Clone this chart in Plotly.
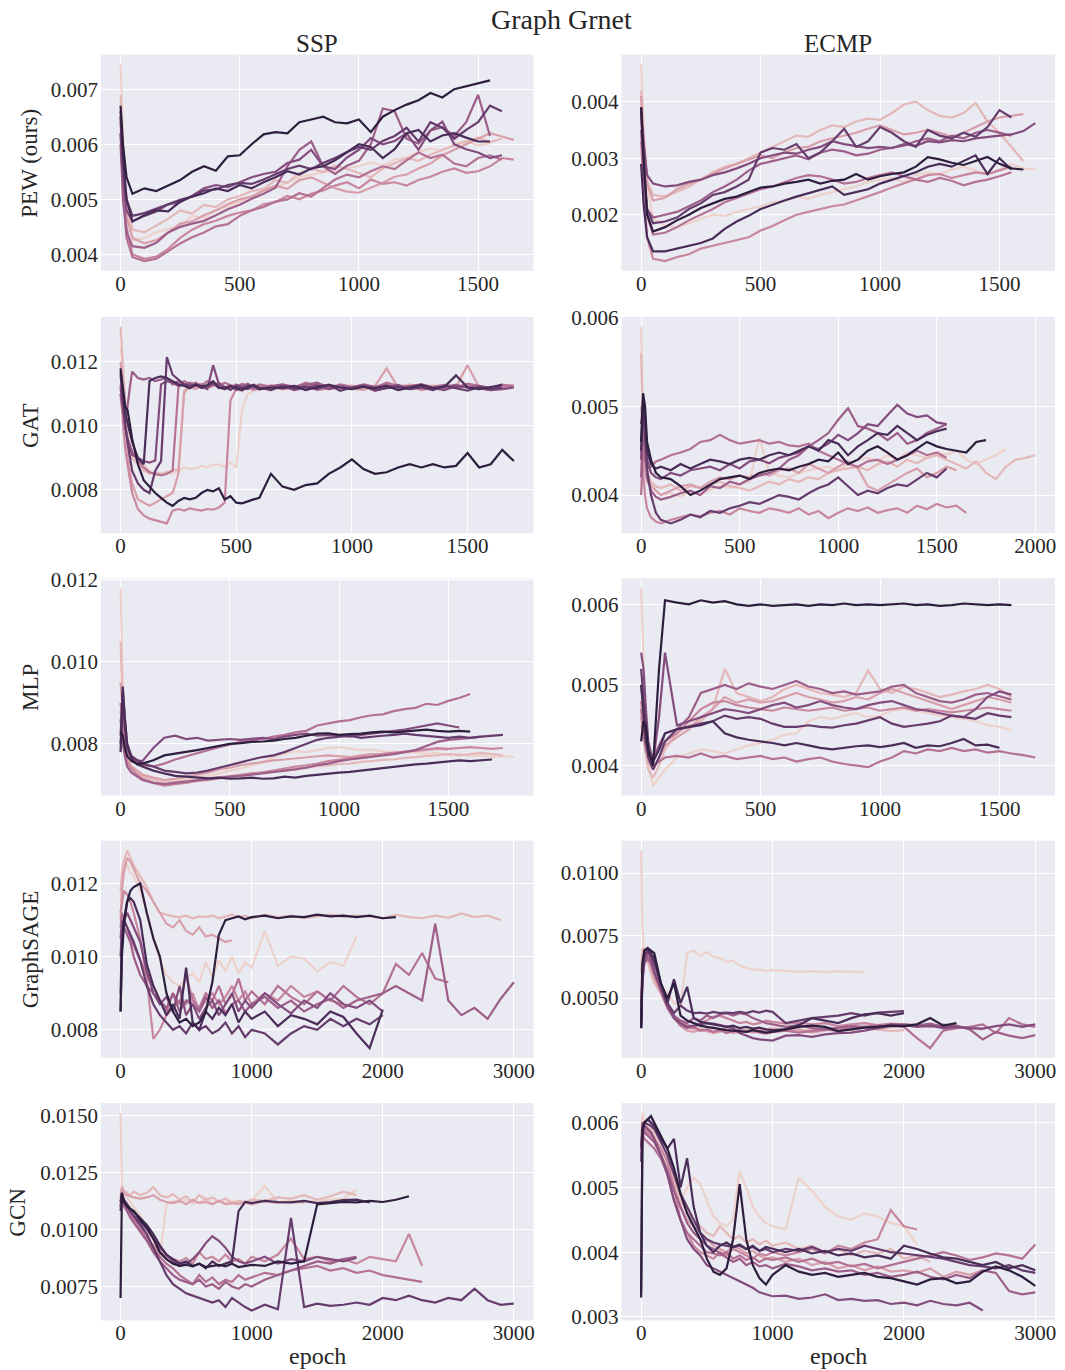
import math
import plotly.graph_objects as go

# ---------------------------------------------------------------------------
# Loss curves per seed (values stored in units of 1e-5), one list per seed,
# ordered from the lowest seed (lightest colour) to the highest (darkest).
# Each curve is sampled on the epoch grid of its panel; a shorter list
# simply means that run stopped earlier.
# ---------------------------------------------------------------------------
VALUE_UNIT = 1e-5

EPOCHS_A = [0, 10, 25, 50, 100, 150, 200, 250, 300, 350, 400, 450, 500, 550, 600, 650,
            700, 750, 800, 850, 900, 950, 1000, 1050, 1100, 1150, 1200, 1250, 1300, 1350,
            1400, 1450, 1500, 1550, 1600, 1650]

EPOCHS_B = [0, 10, 20, 30, 40, 50, 75, 100, 125, 150, 175, 200, 225, 250, 275, 300, 325,
            350, 375, 400, 425, 450, 475, 500, 525, 550, 575, 600, 650, 700, 750, 800, 850,
            900, 950, 1000, 1050, 1100, 1150, 1200, 1250, 1300, 1350, 1400, 1450, 1500,
            1550, 1600, 1650, 1700]

EPOCHS_C = [0, 10, 20, 30, 50, 75, 100, 150, 200, 250, 300, 350, 400, 450, 500, 550, 600,
            650, 700, 750, 800, 850, 900, 950, 1000, 1050, 1100, 1150, 1200, 1250, 1300,
            1350, 1400, 1450, 1500, 1550, 1600, 1650, 1700, 1750, 1800, 1850, 1900, 1950, 2000]

EPOCHS_D = [0, 10, 25, 50, 75, 100, 150, 200, 250, 300, 350, 400, 450, 500, 550, 600, 650,
            700, 750, 800, 850, 900, 950, 1000, 1100, 1200, 1300, 1400, 1500, 1600, 1700,
            1800, 1900, 2000, 2100, 2200, 2300, 2400, 2500, 2600, 2700, 2800, 2900, 3000]

PEW_SSP = [
    [745, 620, 480, 425, 430, 440, 446, 452, 470, 466, 480, 488, 495, 506, 515, 521, 530, 541, 545, 549, 552, 557, 560, 567, 561, 572, 576, 586, 592, 588, 600, 606, 598, 602],
    [690, 600, 500, 445, 440, 452, 465, 480, 474, 490, 486, 500, 506, 515, 519, 535, 530, 548, 555, 550, 561, 555, 548, 540, 556, 565, 575, 570, 581, 590, 598, 605, 612, 604, 610],
    [650, 560, 470, 430, 420, 426, 440, 456, 460, 471, 480, 491, 500, 505, 516, 525, 519, 535, 540, 530, 520, 514, 512, 521, 530, 541, 545, 556, 565, 580, 590, 601, 610, 620, 614, 608],
    [640, 540, 450, 400, 392, 396, 410, 430, 445, 455, 461, 470, 476, 480, 491, 495, 506, 500, 510, 516, 525, 531, 520, 536, 528, 531, 525, 535, 541, 550, 556, 548, 551, 560, 575, 572],
    [620, 520, 430, 395, 388, 392, 406, 420, 431, 440, 451, 455, 470, 480, 486, 496, 500, 511, 505, 521, 536, 545, 540, 551, 560, 555, 571, 585, 575, 581, 565, 560, 575, 580, 572],
    [600, 500, 440, 415, 412, 421, 440, 450, 456, 461, 471, 482, 490, 501, 510, 521, 560, 590, 605, 560, 546, 561, 570, 600, 665, 660, 610, 601, 625, 631, 615, 640, 690, 615],
    [620, 540, 480, 460, 470, 478, 491, 495, 506, 520, 526, 522, 531, 540, 546, 550, 566, 572, 590, 560, 555, 576, 590, 611, 600, 606, 620, 590, 625, 641, 600, 591, 585, 575, 580],
    [650, 560, 500, 470, 475, 483, 490, 499, 505, 516, 518, 526, 530, 528, 536, 546, 555, 561, 555, 566, 575, 586, 595, 590, 606, 615, 630, 605, 640, 630, 610, 626, 640, 670, 660],
    [660, 580, 500, 460, 471, 480, 478, 496, 505, 511, 520, 515, 526, 520, 531, 540, 551, 545, 556, 560, 571, 585, 600, 595, 575, 591, 620, 626, 605, 616, 620, 612, 605, 605],
    [670, 600, 540, 510, 520, 515, 525, 535, 550, 560, 552, 578, 580, 600, 618, 622, 620, 640, 645, 650, 640, 638, 645, 622, 650, 662, 672, 680, 693, 685, 700, 705, 710, 716],
]

PEW_ECMP = [
    [466, 360, 250, 195, 180, 178, 185, 192, 200, 198, 205, 210, 215, 222, 225, 232, 228, 235, 240, 245, 250, 258, 262, 265, 258, 270, 275, 272, 280, 285, 278, 272, 280, 290, 282, 280],
    [420, 340, 260, 235, 232, 240, 250, 262, 275, 285, 290, 300, 310, 320, 330, 340, 338, 350, 358, 355, 365, 370, 368, 380, 395, 400, 385, 375, 372, 380, 398, 365, 345, 320, 295],
    [410, 330, 255, 225, 230, 245, 255, 262, 272, 282, 290, 298, 305, 300, 310, 318, 320, 330, 335, 340, 345, 352, 358, 350, 342, 345, 350, 345, 338, 345, 355, 365, 372, 375, 378],
    [330, 250, 160, 122, 118, 125, 130, 140, 145, 150, 155, 160, 172, 180, 190, 200, 205, 210, 215, 218, 225, 232, 240, 248, 255, 262, 270, 272, 265, 270, 275, 272, 278, 285],
    [380, 280, 200, 165, 168, 178, 190, 200, 210, 222, 230, 238, 245, 250, 258, 265, 270, 268, 262, 255, 258, 265, 270, 275, 268, 262, 258, 265, 260, 252, 258, 262, 268, 275],
    [350, 280, 210, 195, 200, 205, 215, 225, 240, 250, 262, 278, 290, 295, 300, 305, 298, 310, 315, 312, 305, 308, 315, 318, 322, 330, 335, 330, 340, 335, 345, 350, 345, 340],
    [390, 330, 270, 255, 250, 252, 258, 262, 270, 275, 282, 290, 300, 305, 310, 308, 315, 320, 330, 325, 322, 318, 320, 318, 325, 322, 330, 328, 332, 330, 335, 338, 340, 342, 348, 362],
    [390, 300, 210, 185, 188, 195, 210, 220, 235, 240, 250, 262, 310, 318, 315, 325, 300, 310, 330, 352, 320, 330, 355, 345, 330, 320, 350, 340, 335, 345, 338, 355, 385, 372],
    [290, 220, 160, 135, 135, 140, 145, 150, 158, 175, 188, 198, 210, 218, 225, 232, 238, 245, 250, 235, 240, 245, 255, 262, 268, 275, 285, 290, 285, 295, 305, 272, 300, 280],
    [390, 300, 200, 170, 178, 190, 200, 212, 220, 228, 232, 240, 248, 250, 255, 258, 262, 255, 260, 262, 272, 262, 268, 272, 275, 285, 302, 298, 292, 288, 295, 302, 290, 282, 280],
]

GAT_SSP = [
    [1250, 1150, 1050, 980, 940, 920, 900, 880, 860, 845, 850, 855, 850, 860, 870, 865, 868, 875, 870, 878, 880, 872, 885, 870, 1050, 1100, 1110, 1115, 1120, 1112, 1118, 1125, 1115, 1122, 1120, 1128, 1115, 1122, 1118, 1125, 1120, 1115, 1128, 1122, 1118, 1125, 1120, 1115, 1130, 1125],
    [1310, 1180, 1050, 960, 930, 900, 880, 860, 850, 855, 850, 855, 860, 865, 1100, 1125, 1120, 1130, 1118, 1125, 1130, 1120, 1128, 1115, 1122, 1118, 1130, 1125, 1120, 1128, 1118, 1125, 1122, 1130, 1115, 1120, 1128, 1118, 1125, 1122, 1130, 1118, 1122, 1125, 1120, 1128, 1118, 1122, 1120],
    [1200, 1100, 1000, 920, 860, 820, 770, 760, 750, 760, 770, 780, 790, 850, 1110, 1120, 1115, 1125, 1118, 1128, 1120, 1115, 1122, 1130, 1118, 1125, 1120, 1112, 1128, 1118, 1125, 1120, 1115, 1128, 1122, 1118, 1112, 1125, 1180, 1120, 1118, 1125, 1120, 1115, 1122, 1190, 1120, 1115, 1128],
    [1100, 1000, 930, 880, 830, 790, 740, 720, 710, 705, 700, 695, 735, 740, 735, 742, 738, 735, 740, 738, 745, 760, 1080, 1115, 1110, 1120, 1112, 1118, 1125, 1115, 1120, 1128, 1112, 1118, 1122, 1115, 1125, 1110, 1120, 1118, 1125, 1112, 1120, 1115, 1122, 1128, 1118, 1112, 1120, 1125],
    [1130, 1060, 1000, 960, 940, 920, 890, 870, 855, 850, 845, 850, 860, 1120, 1140, 1130, 1135, 1125, 1140, 1130, 1125, 1135, 1128, 1120, 1132, 1125, 1118, 1130, 1122, 1128, 1120, 1135, 1125, 1118, 1130, 1122, 1128, 1120, 1135, 1125, 1118, 1130, 1122, 1128, 1120, 1132, 1125, 1118, 1128, 1125],
    [1100, 1050, 1020, 1060, 1120, 1170, 1150, 1145, 1150, 1140, 1145, 1150, 1130, 1140, 1128, 1135, 1125, 1130, 1120, 1128, 1135, 1122, 1118, 1128, 1125, 1132, 1120, 1118, 1125, 1130, 1122, 1128, 1135, 1120, 1125, 1118, 1130, 1122, 1128, 1120, 1125, 1130, 1118, 1122, 1128, 1120, 1125, 1118, 1130],
    [1120, 1060, 1000, 960, 930, 910, 900, 890, 885, 892, 1130, 1140, 1135, 1125, 1130, 1120, 1128, 1122, 1115, 1190, 1130, 1120, 1125, 1112, 1118, 1128, 1122, 1115, 1120, 1125, 1112, 1120, 1128, 1115, 1122, 1118, 1125, 1110, 1120, 1128, 1115, 1122, 1118, 1112, 1125, 1120, 1118, 1112, 1115, 1120],
    [1160, 1080, 1000, 950, 900, 860, 820, 800, 790, 860, 890, 1215, 1160, 1145, 1130, 1125, 1128, 1118, 1125, 1135, 1118, 1122, 1112, 1125, 1120, 1115, 1128, 1120, 1112, 1125, 1118, 1122, 1115, 1128, 1110, 1120, 1125, 1112, 1118, 1122, 1115, 1120, 1112, 1125, 1118, 1110, 1122, 1115, 1120],
    [1170, 1100, 1040, 1010, 980, 950, 900, 880, 1140, 1150, 1155, 1150, 1140, 1130, 1125, 1118, 1130, 1122, 1128, 1140, 1120, 1115, 1125, 1118, 1112, 1122, 1128, 1115, 1120, 1118, 1125, 1112, 1122, 1128, 1120, 1115, 1122, 1118, 1125, 1112, 1120, 1128, 1118, 1122, 1158, 1120, 1115, 1122, 1128],
    [1180, 1120, 1060, 1050, 1000, 960, 880, 830, 810, 790, 775, 760, 750, 765, 775, 770, 775, 790, 800, 795, 805, 770, 780, 760, 758, 765, 770, 775, 850, 810, 800, 815, 820, 850, 870, 895, 865, 850, 855, 870, 880, 870, 880, 870, 875, 915, 870, 880, 925, 890],
]

GAT_ECMP = [
    [590, 480, 440, 420, 412, 405, 400, 402, 398, 404, 400, 406, 410, 408, 412, 415, 465, 425, 422, 420, 425, 428, 430, 432, 428, 435, 440, 442, 438, 445, 440, 448, 445, 442, 448, 446, 450, 440, 435, 440, 445, 452],
    [560, 470, 440, 425, 415, 410, 408, 412, 405, 410, 408, 412, 415, 410, 408, 405, 410, 415, 412, 418, 415, 420, 418, 425, 428, 430, 432, 428, 435, 438, 432, 440, 436, 442, 445, 440, 435, 430, 438, 425, 418, 432, 440, 442, 445],
    [500, 460, 430, 415, 410, 405, 400, 405, 410, 412, 408, 415, 420, 418, 422, 420, 425, 422, 428, 430, 425, 435, 430, 425, 432, 438, 430, 410, 405, 412, 418, 425, 430, 420, 425, 432, 428],
    [450, 420, 400, 385, 375, 370, 368, 372, 375, 378, 376, 380, 382, 378, 385, 382, 380, 385, 383, 380, 385, 378, 382, 374, 380, 385, 382, 386, 380, 383, 385, 380, 388, 384, 390, 386, 388, 380],
    [400, 450, 440, 430, 432, 438, 440, 445, 448, 452, 460, 462, 468, 462, 458, 460, 462, 458, 460, 456, 455, 458, 450, 445, 440, 435, 432, 438, 440, 435, 440, 445, 450, 445, 448, 442],
    [420, 480, 450, 420, 405, 398, 395, 398, 402, 405, 400, 410, 408, 415, 412, 418, 422, 425, 430, 440, 445, 455, 462, 470, 485, 498, 478, 475, 470, 462, 470, 458, 462, 470, 475, 480],
    [440, 500, 470, 440, 425, 420, 418, 425, 422, 428, 430, 432, 428, 435, 430, 438, 440, 436, 442, 445, 448, 455, 452, 458, 468, 462, 470, 480, 478, 490, 502, 492, 488, 490, 482, 480],
    [480, 500, 470, 430, 400, 380, 372, 368, 372, 378, 375, 382, 380, 385, 388, 392, 390, 395, 400, 398, 395, 402, 408, 412, 420, 410, 400, 405, 402, 408, 412, 410, 418, 425, 420, 430],
    [450, 510, 490, 450, 435, 430, 432, 428, 435, 430, 435, 440, 438, 435, 440, 442, 440, 445, 448, 445, 450, 455, 450, 462, 458, 445, 455, 462, 470, 468, 478, 470, 462, 468, 472, 475],
    [460, 515, 500, 460, 440, 425, 420, 418, 410, 400, 405, 412, 418, 420, 422, 418, 425, 428, 430, 428, 432, 435, 440, 438, 448, 435, 440, 450, 455, 448, 440, 445, 452, 460, 455, 452, 450, 448, 460, 462],
]

MLP_SSP = [
    [1180, 950, 820, 770, 745, 735, 725, 715, 710, 712, 715, 718, 722, 728, 735, 740, 748, 755, 768, 775, 782, 780, 785, 790, 792, 788, 785, 786, 782, 780, 778, 780, 776, 778, 772, 775, 770, 772, 768, 770, 768],
    [1050, 880, 800, 760, 740, 728, 720, 712, 705, 708, 710, 713, 715, 719, 722, 726, 728, 731, 735, 738, 741, 742, 746, 748, 751, 752, 756, 758, 761, 762, 766, 768, 771, 772, 776, 772, 775, 778, 775, 772],
    [950, 860, 790, 760, 745, 735, 725, 718, 712, 715, 720, 725, 730, 738, 742, 748, 752, 756, 760, 762, 765, 768, 770, 772, 770, 768, 772, 775, 776, 778, 780, 782, 785, 788, 786],
    [880, 820, 780, 755, 740, 725, 715, 705, 698, 702, 705, 710, 712, 716, 720, 725, 728, 730, 735, 740, 745, 748, 752, 758, 762, 765, 768, 770, 775, 778, 782, 785, 788, 790, 788, 790, 792, 790, 788, 790],
    [900, 840, 800, 780, 765, 755, 748, 745, 752, 762, 770, 778, 785, 792, 798, 805, 808, 812, 818, 822, 828, 832, 845, 850, 855, 858, 865, 870, 872, 880, 885, 888, 898, 895, 905, 912, 922],
    [860, 800, 770, 745, 730, 720, 712, 705, 702, 705, 708, 712, 715, 718, 720, 722, 725, 728, 732, 735, 738, 742, 748, 752, 758, 762, 765, 768, 772, 775, 780, 785, 795, 805, 810, 812, 815, 818],
    [820, 930, 860, 800, 770, 760, 758, 790, 815, 820, 812, 815, 808, 810, 812, 810, 812, 815, 812, 818, 822, 825, 820, 822, 820, 818, 822, 825, 828, 832, 835, 840, 845, 850, 845, 840],
    [800, 900, 840, 790, 770, 760, 752, 745, 735, 732, 728, 730, 735, 742, 748, 755, 762, 768, 772, 780, 790, 800, 810, 815, 818, 820, 815, 818, 820, 822, 825, 822, 820, 818, 815, 818, 815, 818, 820, 822],
    [780, 940, 860, 800, 765, 750, 745, 735, 728, 722, 720, 718, 716, 718, 715, 716, 718, 715, 716, 720, 718, 722, 725, 728, 730, 732, 735, 738, 742, 745, 748, 750, 752, 755, 758, 760, 758, 760, 762],
    [830, 820, 790, 770, 758, 752, 752, 760, 772, 776, 780, 785, 790, 795, 800, 802, 805, 806, 808, 812, 815, 820, 825, 826, 822, 824, 825, 828, 830, 828, 830, 832, 835, 832, 830, 832, 830],
]

MLP_ECMP = [
    [620, 520, 440, 400, 375, 385, 395, 410, 415, 420, 418, 415, 420, 425, 428, 432, 438, 440, 455, 460, 458, 462, 465, 460, 462, 468, 470, 468, 465, 462, 460, 458, 455, 450, 448, 444],
    [450, 430, 410, 395, 385, 400, 420, 440, 450, 455, 470, 520, 490, 485, 480, 485, 495, 500, 495, 490, 488, 485, 490, 518, 495, 490, 498, 495, 490, 485, 488, 492, 495, 500, 495, 485],
    [460, 440, 420, 405, 395, 410, 425, 435, 445, 460, 470, 485, 478, 482, 478, 480, 485, 490, 485, 482, 478, 480, 485, 482, 490, 495, 490, 485, 480, 475, 470, 475, 480, 485, 482, 478],
    [480, 450, 430, 415, 405, 420, 430, 440, 455, 470, 478, 480, 475, 472, 470, 468, 472, 470, 468, 470, 472, 468, 470, 472, 468, 470, 472, 468, 470, 468, 466, 468, 470, 472, 470, 468],
    [470, 440, 420, 410, 400, 405, 410, 412, 410, 415, 410, 412, 408, 410, 412, 408, 410, 405, 408, 410, 405, 402, 400, 398, 405, 410, 418, 415, 420, 418, 422, 418, 420, 416, 418, 415, 413, 410],
    [500, 470, 440, 420, 410, 425, 440, 445, 460, 490, 495, 500, 495, 502, 498, 495, 500, 505, 498, 495, 490, 492, 488, 490, 492, 498, 500, 490, 485, 480, 478, 482, 488, 490, 486, 482],
    [540, 520, 470, 430, 405, 460, 540, 450, 455, 460, 465, 470, 468, 465, 470, 475, 478, 472, 475, 480, 475, 472, 470, 475, 478, 480, 475, 470, 468, 465, 462, 460, 470, 485, 492, 488],
    [520, 480, 440, 410, 395, 410, 430, 445, 448, 452, 455, 462, 458, 460, 458, 452, 448, 448, 450, 448, 447, 450, 452, 456, 460, 452, 448, 450, 452, 455, 462, 460, 458, 465, 462, 460],
    [500, 460, 430, 415, 405, 420, 440, 445, 448, 450, 455, 440, 435, 432, 430, 428, 425, 428, 425, 422, 420, 422, 424, 425, 423, 425, 428, 422, 425, 424, 428, 433, 425, 426, 422],
    [430, 455, 450, 420, 400, 520, 605, 602, 600, 605, 602, 604, 600, 598, 600, 598, 599, 600, 598, 600, 599, 601, 599, 600, 599, 600, 601, 599, 600, 598, 599, 601, 600, 599, 600, 599],
]

SAGE_SSP = [
    [1150, 1200, 1240, 1250, 1230, 1220, 1180, 1120, 1050, 990, 950, 930, 920, 940, 955, 930, 985, 945, 990, 960, 1000, 955, 985, 970, 1070, 975, 1000, 995, 960, 985, 975, 1055],
    [1180, 1230, 1260, 1290, 1270, 1250, 1220, 1190, 1150, 1120, 1115, 1110, 1108, 1112, 1105, 1110, 1108, 1112, 1105, 1110, 1115, 1108, 1112, 1105, 1115, 1108, 1112, 1105, 1110, 1115, 1108, 1112, 1110, 1105, 1115, 1108, 1105, 1112, 1106, 1118, 1108, 1112, 1100],
    [1100, 1180, 1230, 1270, 1260, 1240, 1200, 1180, 1150, 1120, 1090, 1080, 1100, 1070, 1060, 1080, 1055, 1060, 1050, 1040, 1045],
    [1120, 1150, 1180, 1170, 1150, 1120, 1050, 940, 775, 800, 840, 860, 880, 870, 900, 850, 880, 900, 870, 890, 920, 880, 905, 870, 900, 880, 920, 890, 905, 880, 870],
    [1080, 1120, 1100, 1080, 1050, 1030, 990, 950, 920, 880, 850, 900, 870, 950, 880, 860, 900, 880, 920, 870, 895, 940, 880, 905, 870, 920, 890, 870, 905, 880, 920, 890, 870, 900, 980, 950, 1010, 940, 930],
    [1050, 1100, 1080, 1060, 1040, 1000, 950, 920, 900, 880, 860, 900, 850, 880, 870, 850, 890, 860, 880, 845, 870, 880, 850, 870, 890, 860, 880, 850, 870, 885, 860, 880, 890, 900, 920, 900, 880, 1090, 880, 840, 860, 830, 885, 930],
    [1000, 1080, 1100, 1120, 1100, 1080, 1040, 960, 900, 870, 890, 850, 920, 840, 870, 830, 860, 880, 840, 870, 900, 850, 880, 860, 900, 870, 845, 880, 860, 900, 870, 860, 880, 850],
    [900, 1050, 1100, 1080, 1060, 1040, 990, 920, 870, 840, 820, 800, 810, 790, 820, 800, 810, 790, 800, 820, 790, 810, 780, 800, 790, 760, 790, 810, 800, 830, 810, 830, 815, 840],
    [850, 1000, 1080, 1150, 1160, 1150, 1100, 980, 920, 880, 840, 870, 830, 970, 820, 800, 850, 830, 860, 840, 870, 820, 850, 830, 850, 810, 840, 830, 815, 850, 835, 790, 750, 855],
    [850, 1020, 1100, 1150, 1180, 1190, 1200, 1120, 1050, 1000, 900, 850, 820, 830, 810, 820, 850, 930, 1060, 1100, 1105, 1110, 1102, 1108, 1112, 1105, 1110, 1108, 1115, 1110, 1112, 1108, 1112, 1105, 1108],
]

SAGE_ECMP = [
    [1090, 780, 650, 640, 610, 580, 550, 520, 480, 470, 680, 690, 670, 685, 665, 660, 645, 650, 630, 620, 612, 615, 608, 612, 610, 605, 608, 604, 608, 606, 603],
    [600, 700, 690, 650, 600, 560, 520, 480, 420, 400, 385, 375, 380, 370, 385, 375, 380, 372, 378, 370, 380, 372, 375, 380, 372, 368, 375, 380, 372, 378, 385, 375, 368, 372],
    [500, 650, 700, 660, 620, 580, 520, 460, 420, 390, 370, 365, 372, 368, 360, 365, 372, 360, 365, 370, 362, 368, 372, 365, 370, 375, 362, 370, 380, 372, 385, 378, 385, 390, 395, 388, 392, 385, 380, 375],
    [450, 620, 680, 670, 640, 600, 540, 470, 420, 400, 395, 380, 400, 410, 425, 430, 420, 410, 400, 405, 395, 400, 410, 405, 398, 402, 395, 400, 388, 395, 400, 392, 398, 395, 390, 385, 395, 385, 380],
    [420, 600, 660, 680, 650, 600, 530, 460, 420, 390, 380, 385, 370, 375, 365, 372, 360, 368, 372, 365, 370, 362, 358, 365, 370, 362, 368, 375, 368, 380, 385, 378, 390, 385, 340, 300, 370, 380, 385, 395, 360, 420, 395, 385],
    [400, 580, 640, 660, 640, 600, 530, 470, 430, 410, 400, 420, 410, 430, 420, 435, 440, 430, 440, 435, 420, 410, 400, 395, 385, 392, 380, 375, 382, 388, 385, 390, 388, 395, 390, 398, 385, 390, 375, 335, 365, 350, 340, 352],
    [380, 560, 650, 690, 660, 610, 540, 470, 420, 400, 385, 390, 395, 400, 398, 392, 385, 380, 360, 350, 340, 335, 332, 330, 350, 352, 345, 355, 360, 362, 370, 380, 395, 392, 385, 390, 380, 385, 380, 378, 388, 395, 385, 395],
    [390, 600, 670, 690, 670, 640, 560, 480, 440, 470, 450, 440, 442, 438, 445, 440, 442, 440, 445, 440, 448, 442, 450, 445, 400, 410, 420, 425, 430, 440, 430, 442, 445, 448],
    [380, 620, 690, 700, 680, 660, 560, 480, 575, 480, 545, 420, 405, 400, 395, 392, 385, 390, 380, 385, 378, 382, 375, 372, 375, 392, 420, 410, 400, 420, 435, 440, 430, 440],
    [380, 640, 690, 700, 690, 680, 560, 500, 560, 430, 410, 400, 390, 385, 380, 375, 372, 370, 368, 365, 372, 368, 362, 365, 375, 385, 390, 385, 368, 375, 382, 385, 390, 388, 395, 420, 390, 400],
]

GCN_SSP = [
    [1510, 1180, 1160, 1140, 1120, 1100, 1060, 1000, 950, 880, 1110, 1125, 1118, 1130, 1112, 1120, 1135, 1115, 1122, 1118, 1128, 1115, 1120, 1125, 1190, 1120, 1128, 1118, 1125, 1130, 1135, 1175],
    [1150, 1190, 1170, 1160, 1150, 1165, 1150, 1160, 1185, 1150, 1140, 1155, 1130, 1145, 1120, 1150, 1130, 1140, 1120, 1135, 1115, 1125, 1120, 1130, 1125, 1140, 1135, 1150, 1130, 1145, 1165, 1150],
    [1120, 1180, 1160, 1150, 1145, 1140, 1135, 1140, 1150, 1130, 1120, 1115, 1125, 1110, 1130, 1115, 1120, 1110, 1125, 1110, 1115, 1112, 1118, 1110, 1125, 1115, 1120, 1118],
    [1150, 1120, 1100, 1080, 1060, 1040, 1000, 960, 930, 900, 880, 870, 860, 875, 850, 900, 870, 880, 860, 890, 860, 870, 850, 880, 860, 890, 960, 870, 880, 860, 870, 850, 880, 870, 860, 980, 840],
    [1100, 1150, 1120, 1090, 1070, 1050, 1010, 960, 920, 880, 850, 830, 800, 780, 760, 800, 770, 790, 760, 780, 770, 800, 780, 790, 810, 800, 820, 830, 840, 820, 830, 810, 820, 800, 790, 780, 770],
    [1120, 1140, 1110, 1080, 1050, 1030, 990, 950, 900, 860, 830, 800, 780, 770, 760, 780, 750, 760, 740, 770, 750, 740, 760, 750, 780, 800, 820, 840, 860, 850, 870, 880],
    [1100, 1150, 1120, 1100, 1080, 1060, 1030, 1000, 960, 920, 890, 860, 840, 850, 870, 900, 940, 970, 950, 920, 880, 860, 850, 860, 880, 850, 870, 860, 880, 870, 860, 875],
    [1080, 1150, 1130, 1100, 1080, 1060, 1020, 980, 920, 860, 800, 760, 740, 720, 710, 700, 690, 680, 690, 660, 700, 680, 660, 645, 670, 650, 1050, 660, 675, 665, 670, 680, 670, 700, 690, 710, 690, 680, 700, 690, 740, 690, 670, 675],
    [1120, 1160, 1130, 1110, 1090, 1080, 1050, 1020, 980, 930, 890, 870, 850, 860, 840, 850, 830, 860, 840, 850, 860, 1080, 1120, 1115, 1125, 1120, 1118, 1125, 1115, 1120, 1128, 1130, 1118],
    [700, 1160, 1120, 1100, 1090, 1080, 1040, 1010, 960, 900, 870, 850, 840, 845, 838, 850, 835, 840, 845, 838, 850, 835, 840, 845, 840, 860, 850, 860, 1110, 1115, 1120, 1118, 1125, 1120, 1130, 1145],
]

GCN_ECMP = [
    [580, 615, 600, 590, 585, 575, 560, 545, 520, 480, 500, 515, 505, 480, 455, 445, 440, 450, 525, 500, 470, 455, 445, 440, 435, 515, 495, 470, 455, 450, 460, 455, 445, 440, 412],
    [560, 590, 600, 595, 590, 580, 560, 540, 510, 480, 460, 450, 440, 430, 425, 440, 430, 420, 425, 415, 420, 412, 418, 410, 415, 405, 410, 400, 405, 395, 402, 398, 405, 390, 395, 385],
    [560, 580, 590, 585, 580, 570, 550, 530, 500, 470, 450, 440, 430, 420, 410, 405, 400, 410, 405, 398, 402, 395, 390, 392, 385, 390, 380, 385, 375, 380, 372, 378, 370, 372, 368, 375, 362, 370, 365, 372],
    [550, 570, 590, 585, 580, 575, 560, 540, 500, 450, 430, 410, 400, 395, 390, 400, 395, 405, 400, 395, 390, 398, 395, 400, 395, 400, 405, 398, 410, 405, 415, 420, 465, 440, 435],
    [560, 580, 575, 570, 565, 560, 545, 520, 480, 450, 430, 420, 410, 400, 398, 395, 400, 390, 395, 388, 392, 385, 390, 388, 392, 385, 390, 382, 385, 378, 382, 375, 380, 385, 390, 395, 400, 395, 388, 392, 398, 395, 390, 412],
    [560, 590, 585, 580, 575, 570, 550, 525, 495, 470, 445, 430, 420, 410, 405, 398, 392, 385, 390, 380, 385, 378, 380, 375, 382, 378, 372, 375, 370, 372, 365, 368, 362, 365, 370, 362, 358, 365, 360, 372, 368, 340, 335, 338],
    [560, 600, 595, 590, 585, 575, 550, 520, 480, 450, 420, 405, 395, 380, 375, 370, 365, 360, 355, 350, 345, 338, 335, 332, 333, 328, 330, 335, 326, 328, 325, 326, 320, 322, 318, 325, 320, 318, 322, 310],
    [540, 590, 600, 598, 595, 590, 570, 550, 520, 490, 470, 450, 430, 420, 415, 412, 410, 408, 410, 405, 408, 402, 405, 400, 405, 402, 408, 400, 405, 402, 410, 405, 400, 398, 395, 392, 390, 385, 380, 378, 375, 380, 372, 368],
    [340, 580, 600, 605, 600, 595, 575, 560, 575, 500, 545, 470, 430, 410, 400, 410, 415, 408, 412, 405, 410, 402, 408, 405, 400, 405, 398, 402, 395, 398, 392, 395, 390, 410, 405, 398, 392, 390, 385, 380, 385, 375, 380, 372],
    [330, 590, 600, 605, 610, 600, 580, 560, 530, 490, 460, 440, 420, 390, 370, 365, 375, 420, 505, 420, 380, 360, 350, 365, 380, 370, 365, 368, 362, 365, 368, 362, 360, 355, 350, 358, 360, 352, 355, 370, 378, 372, 362, 348],
]

ROW_LABELS = ["PEW (ours)", "GAT", "MLP", "GraphSAGE", "GCN"]
COL_LABELS = ["SSP", "ECMP"]
SUPTITLE = "Graph Grnet"
X_LABEL = "epoch"

X_TICKS_1500 = [0, 500, 1000, 1500]
X_TICKS_2000 = [0, 500, 1000, 1500, 2000]
X_TICKS_3000 = [0, 1000, 2000, 3000]

Y_TICKS = {
    "pew_ssp": [0.004, 0.005, 0.006, 0.007],
    "pew_ecmp": [0.001, 0.002, 0.003, 0.004],
    "gat_ssp": [0.008, 0.010, 0.012],
    "gat_ecmp": [0.004, 0.005, 0.006],
    "mlp_ssp": [0.008, 0.010, 0.012],
    "mlp_ecmp": [0.004, 0.005, 0.006],
    "sage_ssp": [0.008, 0.010, 0.012],
    "sage_ecmp": [0.0025, 0.0050, 0.0075, 0.0100],
    "gcn_ssp": [0.0075, 0.0100, 0.0125, 0.0150],
    "gcn_ecmp": [0.003, 0.004, 0.005, 0.006],
}

# panel order: row-major, left column = SSP, right column = ECMP
PANELS = [
    (EPOCHS_A, PEW_SSP, X_TICKS_1500, "pew_ssp", ".3f"),
    (EPOCHS_A, PEW_ECMP, X_TICKS_1500, "pew_ecmp", ".3f"),
    (EPOCHS_B, GAT_SSP, X_TICKS_1500, "gat_ssp", ".3f"),
    (EPOCHS_C, GAT_ECMP, X_TICKS_2000, "gat_ecmp", ".3f"),
    (EPOCHS_C, MLP_SSP, X_TICKS_1500, "mlp_ssp", ".3f"),
    (EPOCHS_C, MLP_ECMP, X_TICKS_1500, "mlp_ecmp", ".3f"),
    (EPOCHS_D, SAGE_SSP, X_TICKS_3000, "sage_ssp", ".3f"),
    (EPOCHS_D, SAGE_ECMP, X_TICKS_3000, "sage_ecmp", ".4f"),
    (EPOCHS_D, GCN_SSP, X_TICKS_3000, "gcn_ssp", ".4f"),
    (EPOCHS_D, GCN_ECMP, X_TICKS_3000, "gcn_ecmp", ".3f"),
]

# ---------------------------------------------------------------------------
# Styling
# ---------------------------------------------------------------------------
W, H = 1065, 1370
FONT = "Liberation Serif"
TEXT = "#262626"
BG = "#EAEAF2"

# panel boxes in page pixels (left, right) / (top, bottom)
COL_X = [(101, 534), (622, 1056)]
ROW_Y = [(55, 271), (317, 533), (578, 795), (840, 1057), (1102, 1319)]
ROW_LABEL_X = [30, 30, 31, 30, 18]

# vertical placement calibration of the page (offset, scale)
Y_OFFSET, Y_SCALE = 11.5, 0.984


def cubehelix(x, start=0.0, rot=0.4, gamma=1.0, hue=0.8):
    xg = x ** gamma
    a = hue * xg * (1 - xg) / 2
    phi = 2 * math.pi * (start / 3 + rot * x)
    r = xg + a * (-0.14861 * math.cos(phi) + 1.78277 * math.sin(phi))
    g = xg + a * (-0.29227 * math.cos(phi) - 0.90649 * math.sin(phi))
    b = xg + a * (1.97294 * math.cos(phi))
    to255 = lambda v: int(round(255 * min(1.0, max(0.0, v))))
    return f"rgb({to255(r)},{to255(g)},{to255(b)})"


N_SEEDS = 10
COLORS = [cubehelix(0.85 - 0.70 * k / (N_SEEDS - 1)) for k in range(N_SEEDS)]


def px_x(v):
    return v / W


def px_y(v):
    return 1 - ((v - Y_OFFSET) / Y_SCALE) / H


fig = go.Figure()
layout = {}
annotations = []

for n, (epochs, curves, xticks, ykey, yfmt) in enumerate(PANELS, start=1):
    row, col = divmod(n - 1, 2)
    suffix = "" if n == 1 else str(n)

    all_x, all_y = [], []
    for k, vals in enumerate(curves):
        xs = epochs[:len(vals)]
        ys = [v * VALUE_UNIT for v in vals]
        all_x += xs
        all_y += ys
        fig.add_trace(go.Scatter(
            x=xs, y=ys, mode="lines",
            line=dict(color=COLORS[k], width=2.2),
            xaxis="x" + suffix, yaxis="y" + suffix,
            showlegend=False, hoverinfo="skip",
        ))

    # matplotlib-style autoscale: 5% margin around the data
    x0, x1 = min(all_x), max(all_x)
    y0, y1 = min(all_y), max(all_y)
    xm, ym = 0.05 * (x1 - x0), 0.05 * (y1 - y0)

    common = dict(
        showgrid=True, gridcolor="white", gridwidth=1.3,
        zeroline=False, showline=False, ticks="",
        tickfont=dict(family=FONT, size=21, color=TEXT),
    )
    layout["xaxis" + suffix] = dict(
        domain=[px_x(COL_X[col][0]), px_x(COL_X[col][1])],
        anchor="y" + suffix, range=[x0 - xm, x1 + xm],
        tickvals=xticks, ticklabelstandoff=-2, **common,
    )
    layout["yaxis" + suffix] = dict(
        domain=[px_y(ROW_Y[row][1]), px_y(ROW_Y[row][0])],
        anchor="x" + suffix, range=[y0 - ym, y1 + ym],
        tickvals=Y_TICKS[ykey], tickformat=yfmt, ticklabelstandoff=2, **common,
    )

# row labels (left column only)
for row, label in enumerate(ROW_LABELS):
    yc = (ROW_Y[row][0] + ROW_Y[row][1]) / 2
    annotations.append(dict(
        text=label, x=px_x(ROW_LABEL_X[row]), y=px_y(yc), xref="paper", yref="paper",
        textangle=-90, showarrow=False, xanchor="center", yanchor="middle",
        font=dict(family=FONT, size=23, color=TEXT),
    ))

# column titles and x labels
for col, label in enumerate(COL_LABELS):
    xc = (COL_X[col][0] + COL_X[col][1]) / 2
    annotations.append(dict(
        text=label, x=px_x(xc), y=px_y(44), xref="paper", yref="paper",
        showarrow=False, xanchor="center", yanchor="middle",
        font=dict(family=FONT, size=25, color=TEXT),
    ))
    annotations.append(dict(
        text=X_LABEL, x=px_x(xc), y=px_y(1355), xref="paper", yref="paper",
        showarrow=False, xanchor="center", yanchor="middle",
        font=dict(family=FONT, size=24, color=TEXT),
    ))

annotations.append(dict(
    text=SUPTITLE, x=px_x(562), y=px_y(20), xref="paper", yref="paper",
    showarrow=False, xanchor="center", yanchor="middle",
    font=dict(family=FONT, size=28, color=TEXT),
))

fig.update_layout(
    width=W, height=H,
    margin=dict(l=0, r=0, t=0, b=0),
    paper_bgcolor="white", plot_bgcolor=BG,
    annotations=annotations,
    **layout,
)

fig.write_html("out.html")
